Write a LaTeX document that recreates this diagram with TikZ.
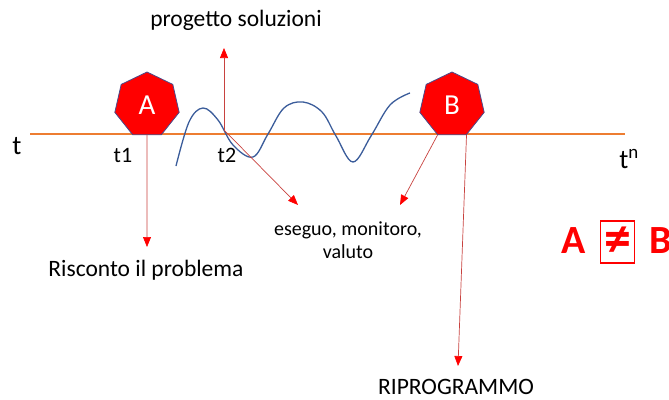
\documentclass[tikz,border=0pt]{standalone}
\usepackage{fontspec}
\setmainfont{Carlito}
\usetikzlibrary{shapes.geometric,arrows.meta}
\definecolor{orangeline}{HTML}{ED7D31}
\definecolor{wavecol}{HTML}{3A5C9A}
\definecolor{arrcol}{HTML}{C8423F}
\definecolor{hepborder}{HTML}{4A4A8A}
\begin{document}
\begin{tikzpicture}[x=1pt,y=-1pt,
  hep/.style={regular polygon, regular polygon sides=7, minimum size=66pt, inner sep=0pt,
    fill=red, draw=hepborder, line width=0.8pt, text=white, font=\fontsize{29}{31}\selectfont},
  lbl/.style={font=\fontsize{23.5}{26}\selectfont, text=black, inner sep=0pt},
  slbl/.style={font=\fontsize{20}{22}\selectfont, text=black, inner sep=0pt},
  tlbl/.style={font=\fontsize{22}{24}\selectfont, text=black, inner sep=0pt},
  bigt/.style={font=\fontsize{27}{29}\selectfont, text=black, inner sep=0pt},
  neqtext/.style={text=red, font=\fontsize{40}{42}\selectfont\bfseries, inner sep=0pt},
  redarrow/.style={draw=arrcol, line width=0.7pt, -{Triangle[length=10pt,width=8pt,fill=red,color=red]}}
]
\useasboundingbox (0,0) rectangle (669,399);
% time axis
\coordinate (L0) at (30,134);
\coordinate (L1) at (625,134);
\draw[orangeline, line width=1.8pt] (L0) -- (L1);
\node[bigt] (t) at (17,146) {t};
\node[tlbl] (t1) at (123,155) {t1};
\node[tlbl] (t2) at (227,155) {t2};
\node[bigt] (tn) at (629,159) {t\textsuperscript{n}};
% wave
\draw[wavecol, line width=1.3pt] plot[smooth, tension=0.6] coordinates {
 (176,166) (189,122) (203,108) (218,120) (233,145) (253,157) (268,134) (284,108) (303,102)
 (322,112) (336,136) (353,162) (371,136) (390,105) (410,93)};
% heptagons
\node[hep] (A) at (147,105) {A};
\node[hep] (B) at (452,105) {B};
% labels
\node[lbl] (prog) at (236,20) {progetto soluzioni};
\node[lbl] (risc) at (146,270) {Risconto il problema};
\node[slbl, align=center] (eseg) at (348,240) {eseguo, monitoro,\\[1pt] valuto};
\node[lbl] (ripr) at (456,387) {RIPROGRAMMO};
% arrows
\coordinate (c2) at (224,130);
\coordinate (aA) at (147,247);
\coordinate (aP) at (224,48);
\coordinate (aE1) at (298,205);
\coordinate (aE2) at (400,205);
\coordinate (aR) at (458,366);
\draw[redarrow] (A.south) -- (aA);
\draw[redarrow] (c2) -- (aP);
\draw[redarrow] (c2) -- (aE1);
\draw[redarrow] (B.corner 4) -- (aE2);
\draw[redarrow] (B.corner 5) -- (aR);
% A != B
\node[neqtext] (nA) at (574,241) {A};
\node[draw=red, line width=1.6pt, minimum width=34pt, minimum height=42pt, inner sep=0pt] (neqbox) at (617.5,242) {};
\node[text=red, font=\fontsize{54}{56}\selectfont\bfseries, inner sep=0pt] (neq) at (neqbox.center) {≠};
\node[neqtext, anchor=west] (nB) at (649,241) {B};
\end{tikzpicture}
\end{document}
